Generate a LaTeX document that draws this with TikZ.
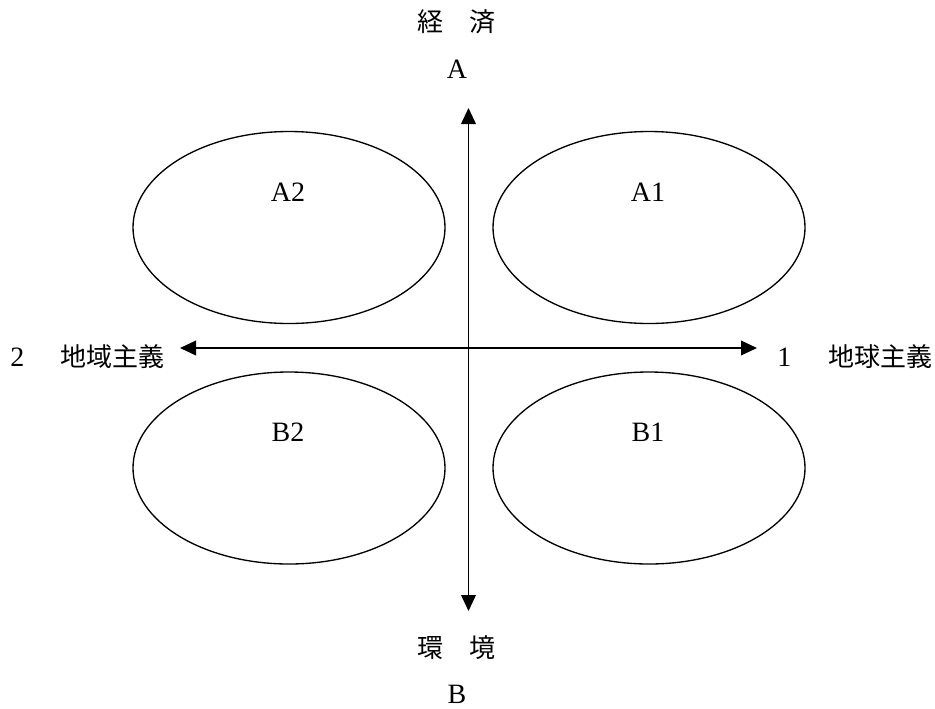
\documentclass[tikz,border=0pt]{standalone}
\usepackage{fontspec}
\setmainfont{Liberation Serif}
\newfontfamily\cjk{Noto Sans CJK JP}
\usetikzlibrary{arrows.meta,shapes.geometric}
\begin{document}
\begin{tikzpicture}[x=0.75pt,y=-0.75pt,
  oval/.style={draw,line width=1pt,ellipse,inner sep=0pt,minimum width=234pt,minimum height=144pt},
  lat/.style={inner sep=0pt,font=\fontsize{21}{24}\selectfont},
  jp/.style={inner sep=0pt,font=\fontsize{19.5}{22}\selectfont\cjk},
  axis/.style={line width=1.3pt,{Triangle[length=12pt,width=11pt]}-{Triangle[length=12pt,width=11pt]}}
]
\useasboundingbox (0,0) rectangle (935,708);
% ellipses
\node[oval] (eA2) at (289,227.5) {};
\node[oval] (eA1) at (649,227.5) {};
\node[oval] (eB2) at (289,468) {};
\node[oval] (eB1) at (649,468) {};
\node[lat] (lA2) at (288,192) {A2};
\node[lat] (lA1) at (648,192) {A1};
\node[lat] (lB2) at (288,432) {B2};
\node[lat] (lB1) at (648,432) {B1};
% axes
\coordinate (top) at (468.5,108);
\coordinate (bot) at (468.5,611);
\coordinate (lft) at (180,348);
\coordinate (rgt) at (757,348);
\draw[axis] (bot) -- (top);
\draw[axis,line width=1.1pt] (lft) -- (rgt);
% axis labels
\node[jp] (econ) at (456.5,22) {経　済};
\node[lat] (A) at (457,69) {A};
\node[jp] (env) at (456.5,648) {環　境};
\node[lat] (B) at (457,694) {B};
\node[inner sep=0pt,anchor=west] (left) at (10,357) {{\fontsize{21}{24}\selectfont 2}\hspace{27pt}{\fontsize{19.5}{22}\selectfont\cjk 地域主義}};
\node[inner sep=0pt,anchor=west] (right) at (777,357) {{\fontsize{21}{24}\selectfont 1}\hspace{28pt}{\fontsize{19.5}{22}\selectfont\cjk 地球主義}};
\end{tikzpicture}
\end{document}
